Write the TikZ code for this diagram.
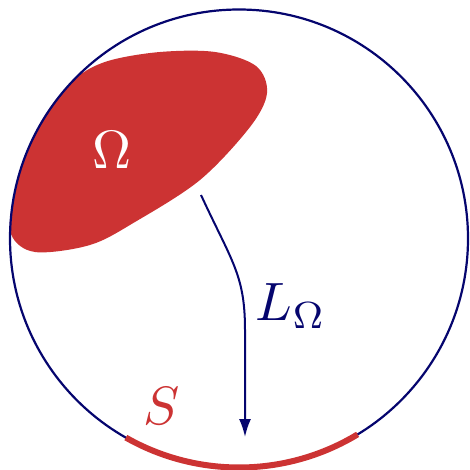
\documentclass[tikz,border=0pt]{standalone}
\usetikzlibrary{arrows.meta}
\definecolor{myred}{RGB}{204,51,51}
\definecolor{mynavy}{RGB}{5,5,110}
\begin{document}
\begin{tikzpicture}[x=1pt,y=1pt,
  bigtext/.style={scale=5.4, inner sep=0pt}]
\useasboundingbox (0,0) rectangle (469,-470);
% blob
\fill[myred] plot[smooth cycle, tension=0.55] coordinates {
 (11,-234) (35,-252) (90,-245) (135,-222) (200,-180) (250,-127)
 (267,-93) (256,-66) (215,-52) (160,-52) (108,-61) (76,-78)
 (47,-112) (26,-153) (14,-195)};
% circle
\coordinate (c) at (239,-238.5);
\draw[mynavy, line width=2.2pt] (c) circle[radius=229];
% S arc
\draw[myred, line width=6pt] ([shift={(240.4:229)}]c) arc[start angle=240.4, end angle=301.2, radius=229];
% arrow
\coordinate (a0) at (201,-195);
\coordinate (a1) at (245,-437);
\draw[mynavy, line width=2pt, -{Latex[length=18pt,width=12pt]}]
  (a0) .. controls (232,-262) and (245,-275) .. (245,-330) -- (a1);
% labels
\node[bigtext, text=white] (omega) at (112,-150) {$\Omega$};
\node[bigtext, text=mynavy] (L) at (291,-306) {$L_\Omega$};
\node[bigtext, text=myred] (S) at (162,-406) {$S$};
\end{tikzpicture}
\end{document}
